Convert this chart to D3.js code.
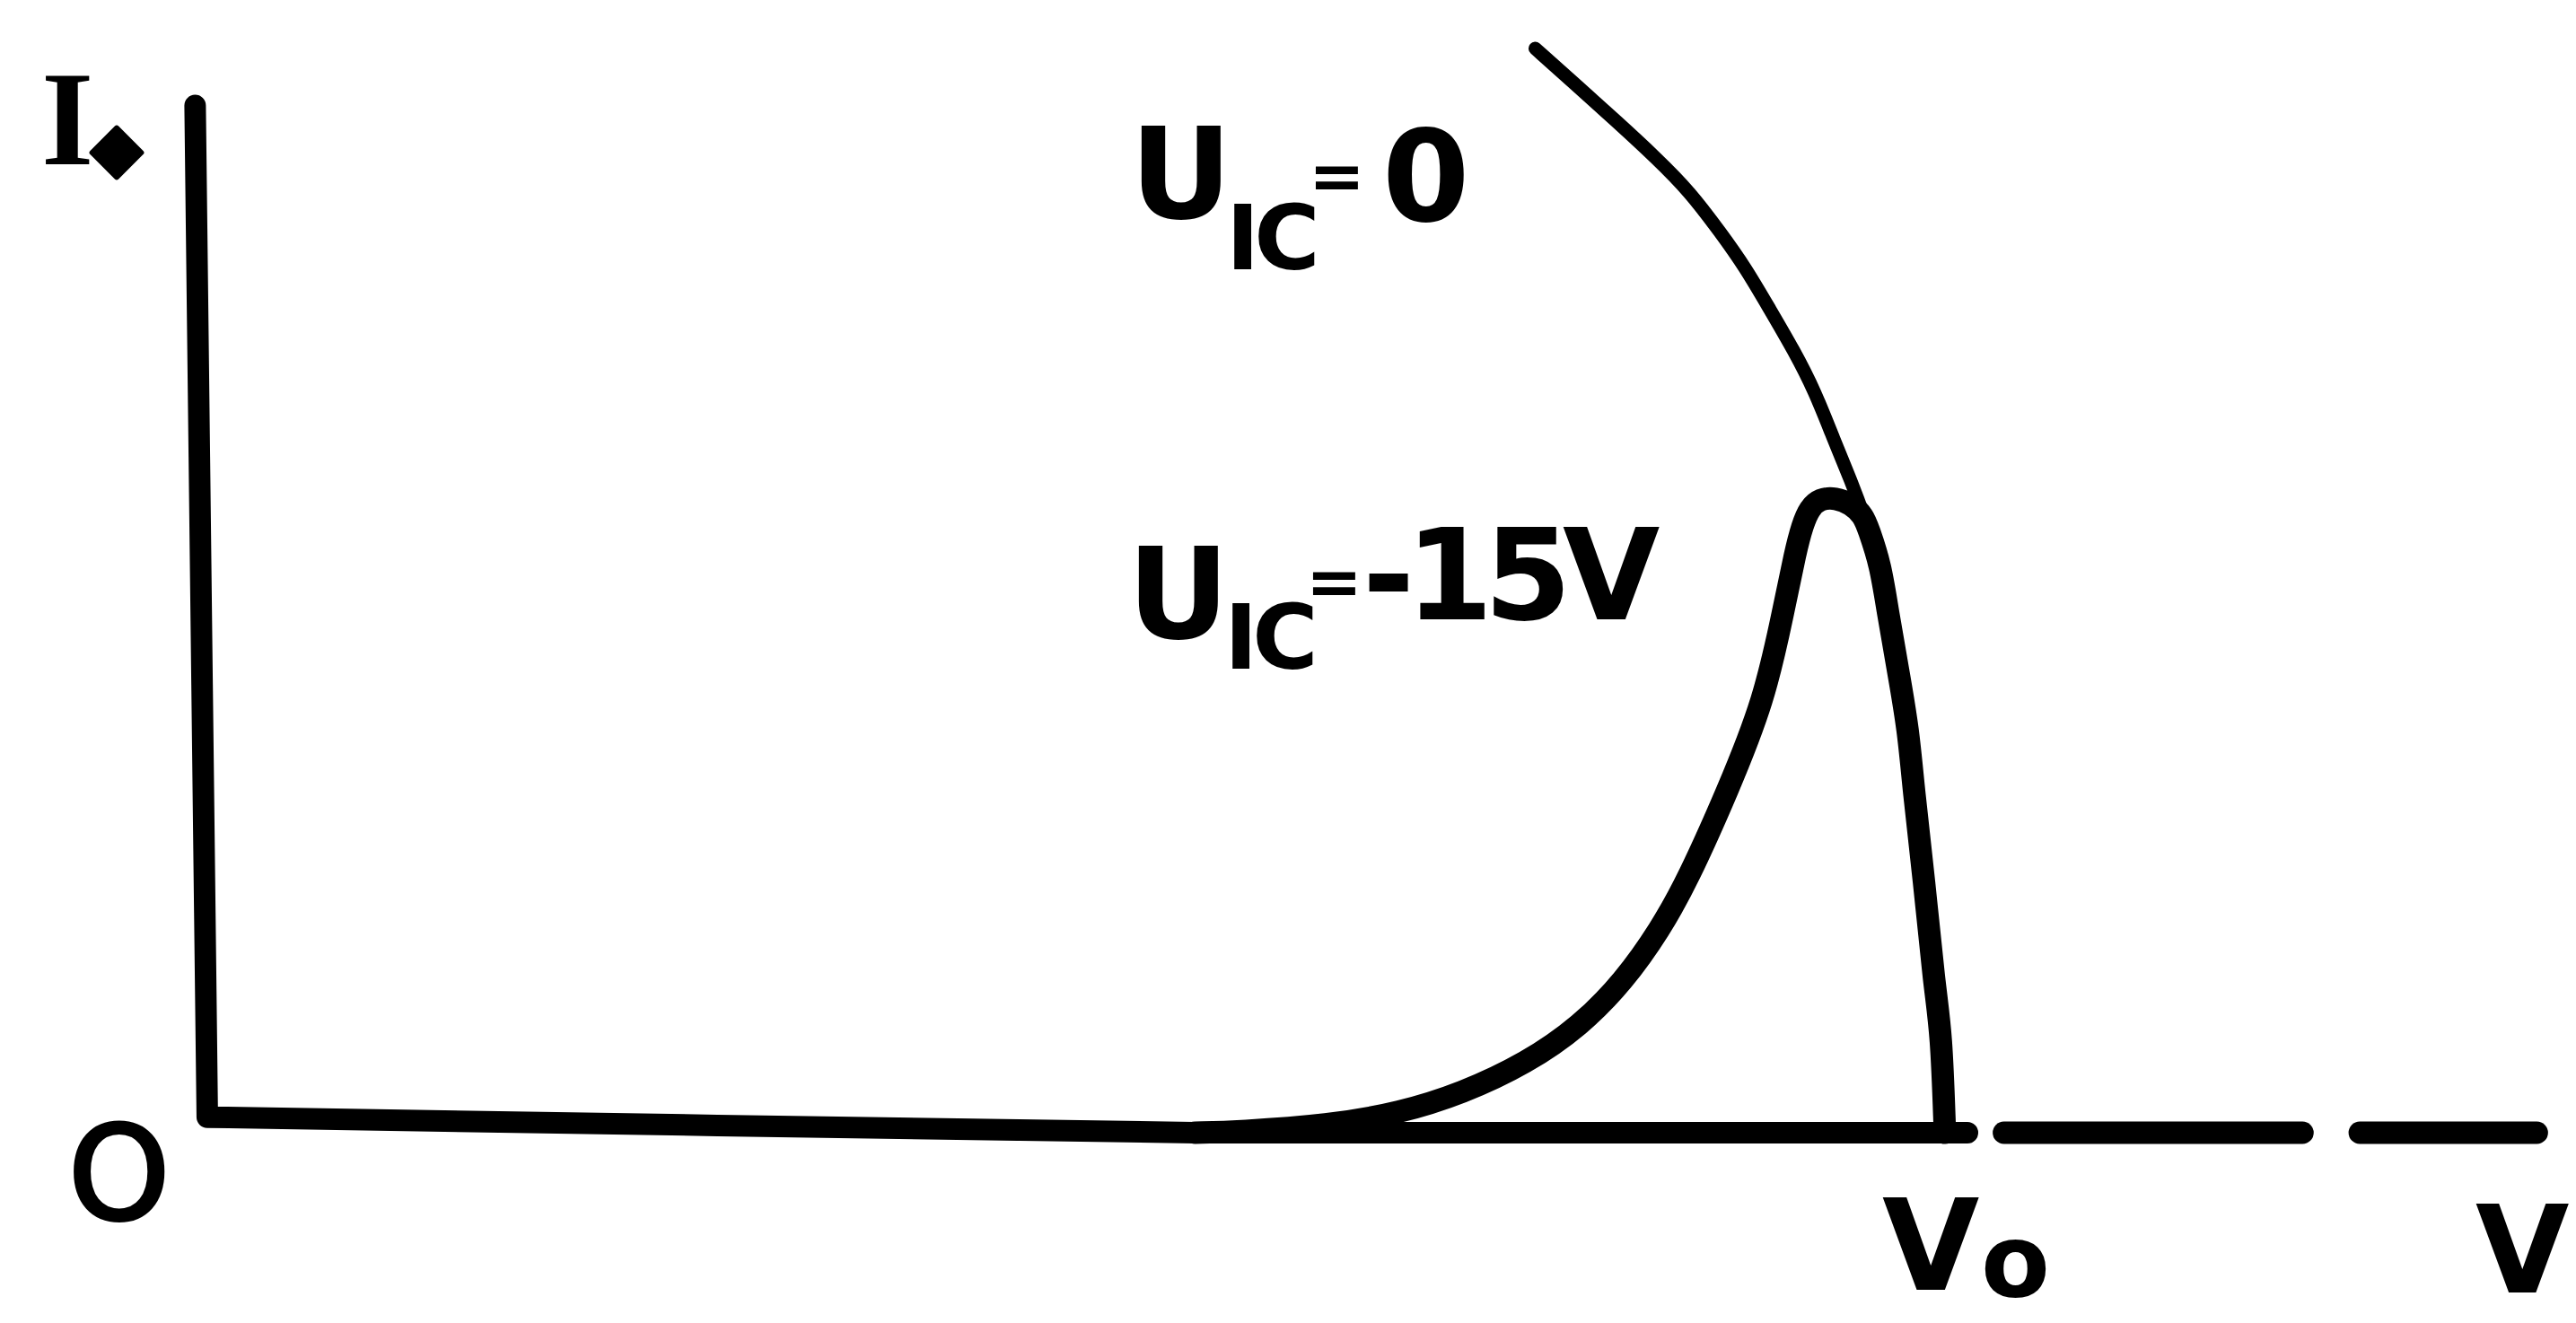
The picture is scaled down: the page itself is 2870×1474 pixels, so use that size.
<!DOCTYPE html>
<html>
<head>
<meta charset="utf-8">
<script src="https://cdn.jsdelivr.net/npm/d3@7"></script>
<style>
  html, body { margin: 0; padding: 0; background: #fff; }
  svg { display: block; }
</style>
</head>
<body>
<svg id="chart" width="2870" height="1474"></svg>
<script>
// Current I versus voltage V for two control voltages U_IC.
// Voltage in units where the cut-off voltage V0 = 100, current in units of the axis height.
const V0 = 100;
const controlVoltages = ["0", "-15V"];

// U_IC = 0 : falling branch that meets the V axis at V0
const curveZeroV = [76.6, 78.8, 81.2, 83.6, 85.5, 87.3, 88.7, 90.1, 91.5, 92.7, 93.8, 94.8, 95.6, 96.5, 96.9, 97.5, 98.1, 98.4, 99.0, 99.6, 100.0, 100.2];
const curveZeroI = [104.5, 101.2, 97.6, 93.9, 90.7, 86.7, 83.4, 79.4, 75.4, 71.5, 66.8, 62.8, 59.2, 54.7, 50.3, 44.6, 38.8, 33.0, 24.4, 14.0, 9.7, 0];

// U_IC = -15V : rises from the axis, peaks, then follows the U_IC = 0 branch down to V0
const curveNegV = [57.0, 59.5, 64.7, 68.8, 72.4, 76.1, 79.2, 81.7, 83.8, 85.4, 87.7, 89.8, 90.9, 91.6, 92.0, 92.4, 93.0, 93.9, 94.8, 95.5, 95.8, 96.5, 96.9, 97.5, 98.1, 98.4, 99.0, 99.6, 100.0, 100.2];
const curveNegI = [0, 0.1, 0.7, 1.9, 3.8, 6.7, 10.3, 14.6, 19.6, 24.4, 33.0, 41.7, 50.3, 56.1, 58.6, 60.2, 61.1, 61.2, 60.6, 59.5, 58.2, 54.7, 50.3, 44.6, 38.8, 33.0, 24.4, 14.0, 9.7, 0];

// Hand-drawn axes: I axis down to the origin, then along the V axis
const axisV = [-0.6, 0.1, 29.5, 57.0, 101.5];
const axisI = [99, 1.5, 0.7, 0, 0];
// Broken continuation of the V axis beyond V0
const axisDashStart = [103.6, 124.1];
const axisDashEnd = [120.8, 134.3];

// Axis annotations
const originLabel = "O";
const xAxisLabel = "V";
const yAxisLabel = "I";
const cutoffLabel = ["V", "o"];

const svg = d3.select("#chart");
svg.append("rect").attr("width", 2870).attr("height", 1474).attr("fill", "#fff");

const x = d3.scaleLinear().domain([0, 100]).range([229, 2163]);
const y = d3.scaleLinear().domain([0, 100]).range([1262, 106]);

const zip = (vs, is) => vs.map((v, k) => [v, is[k]]);
const smooth = d3.line().x(d => x(d[0])).y(d => y(d[1])).curve(d3.curveBasis);
const straight = d3.line().x(d => x(d[0])).y(d => y(d[1]));

const ink = "#000";

// axes
svg.append("path")
  .attr("d", straight(zip(axisV, axisI)))
  .attr("fill", "none").attr("stroke", ink).attr("stroke-width", 24)
  .attr("stroke-linejoin", "round").attr("stroke-linecap", "round");

svg.selectAll("line.dash")
  .data(axisDashStart.map((s, k) => [s, axisDashEnd[k]]))
  .join("line").attr("class", "dash")
  .attr("x1", d => x(d[0])).attr("x2", d => x(d[1]))
  .attr("y1", y(0)).attr("y2", y(0))
  .attr("stroke", ink).attr("stroke-width", 25).attr("stroke-linecap", "round");

// characteristic curves
svg.append("path")
  .attr("d", smooth(zip(curveNegV, curveNegI)))
  .attr("fill", "none").attr("stroke", ink).attr("stroke-width", 25)
  .attr("stroke-linejoin", "round").attr("stroke-linecap", "round");

svg.append("path")
  .attr("d", smooth(zip(curveZeroV, curveZeroI)))
  .attr("fill", "none").attr("stroke", ink).attr("stroke-width", 15)
  .attr("stroke-linejoin", "round").attr("stroke-linecap", "round");

// lettering
const font = "'DejaVu Sans', sans-serif";
function letter(pieces, opts = {}) {
  const t = svg.append("text")
    .attr("font-family", opts.family || font)
    .attr("font-weight", opts.weight || "bold")
    .attr("fill", ink);
  if (opts.stroke) t.attr("stroke", ink).attr("stroke-width", opts.stroke).attr("stroke-linejoin", "round");
  pieces.forEach(p => {
    const s = t.append("tspan").attr("x", p.x).attr("y", p.y).attr("font-size", p.fs).text(p.t);
    if (p.ls) s.attr("letter-spacing", p.ls);
  });
  return t;
}

// U_IC = 0
letter([
  { t: "U", x: 1259, y: 243, fs: 140 },
  { t: "IC", x: 1366, y: 300, fs: 100, ls: -6 },
  { t: "=", x: 1458, y: 222, fs: 75 },
  { t: controlVoltages[0], x: 1540, y: 246, fs: 140 }
]);

// U_IC = -15V
letter([
  { t: "U", x: 1256, y: 711, fs: 140 },
  { t: "IC", x: 1364, y: 745, fs: 100, ls: -6 },
  { t: "=", x: 1455, y: 674, fs: 75 },
  { t: controlVoltages[1], x: 1518, y: 690, fs: 140, ls: -10 }
]);

// I axis label with its marker
letter([{ t: yAxisLabel, x: 46, y: 183, fs: 150 }], { family: "'Liberation Serif', serif" });
svg.append("path")
  .attr("d", d3.symbol(d3.symbolSquare, 1500)())
  .attr("transform", `translate(130,170) rotate(45)`)
  .attr("fill", ink).attr("stroke", ink).attr("stroke-width", 6).attr("stroke-linejoin", "round");

// origin
letter([{ t: originLabel, x: 76, y: 1358, fs: 144 }], { weight: "normal", stroke: 4 });

// V0 at the cut-off point
letter([{ t: cutoffLabel[0], x: x(V0) - 66, y: 1437, fs: 140 }]);
letter([{ t: cutoffLabel[1], x: x(V0) + 44, y: 1444, fs: 112 }]);

// V axis label
letter([{ t: xAxisLabel, x: 2758, y: 1440, fs: 135 }]);
</script>
</body>
</html>
